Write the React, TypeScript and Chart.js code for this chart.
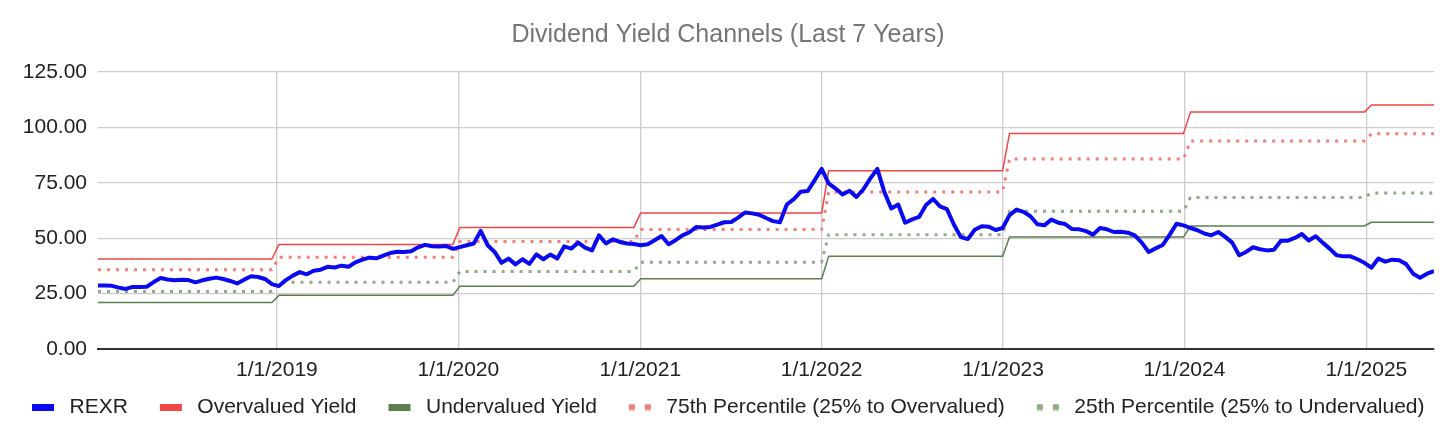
import { useEffect, useRef } from 'react';
import { Chart, registerables } from 'chart.js';

Chart.register(...registerables);
Chart.defaults.font.family = '"Liberation Sans", Arial, sans-serif';

// REXR is sampled every other Saturday, starting 1/6/2018
const DAY = 86400000;
const FIRST_DATE = Date.UTC(2018, 0, 6);
const STEP_DAYS = 14;

// one channel value per calendar year
const years = [2018, 2019, 2020, 2021, 2022, 2023, 2024, 2025];
const overvalued = [40.6, 47.2, 54.8, 61.4, 80.4, 97.3, 106.9, 110.1];
const pct75 = [35.8, 41.4, 48.5, 53.9, 70.9, 85.7, 93.9, 97.1];
const pct25 = [26.0, 30.1, 35.0, 39.2, 51.6, 62.2, 68.4, 70.4];
const undervalued = [21.0, 24.2, 28.3, 31.7, 41.8, 50.5, 55.5, 57.2];

const rexr = [
  // 2018
  28.6, 28.6, 28.5, 27.7, 27.1, 28.0, 28.0, 28.1, 30.2, 32.0, 31.4, 31.0, 31.3,
  31.1, 30.1, 31.0, 31.7, 32.2, 31.6, 30.7, 29.6, 31.3, 32.8, 32.5, 31.6, 29.3,
  // 2019
  28.4, 31.1, 33.1, 34.7, 33.7, 35.3, 35.8, 37.1, 36.8, 37.6, 37.1, 39.1, 40.3,
  41.2, 40.9, 42.1, 43.3, 43.9, 43.8, 44.1, 45.9, 47.0, 46.4, 46.2, 46.5, 45.2,
  // 2020
  46.0, 46.8, 47.6, 53.3, 46.8, 43.8, 38.9, 40.8, 38.2, 40.5, 38.4, 42.7, 40.5,
  42.6, 40.8, 46.3, 45.3, 48.0, 45.7, 44.5, 51.3, 47.6, 49.5, 48.3, 47.6, 47.4,
  // 2021
  46.8, 47.3, 49.1, 51.0, 47.3, 49.1, 51.3, 52.7, 55.1, 54.8, 55.1, 56.1, 57.2,
  57.3, 59.3, 61.6, 61.2, 60.6, 59.1, 57.7, 57.2, 65.2, 67.6, 71.0, 71.3, 76.2, 81.3,
  // 2022
  74.7, 72.4, 69.7, 71.4, 68.6, 72.1, 77.0, 81.3, 70.9, 63.4, 65.2, 57.0, 58.5,
  59.6, 65.0, 67.7, 64.4, 63.1, 56.2, 50.5, 49.6, 53.8, 55.4, 55.2, 53.7, 54.6,
  // 2023
  60.4, 62.9, 61.9, 59.9, 56.3, 55.8, 58.4, 57.0, 56.4, 54.1, 54.0, 53.2, 51.6,
  54.6, 54.0, 52.8, 52.9, 52.5, 51.3, 48.0, 43.8, 45.4, 46.9, 51.5, 56.5, 55.8,
  // 2024
  54.6, 53.6, 52.1, 51.3, 52.8, 50.6, 48.0, 42.3, 43.8, 45.9, 45.0, 44.5, 44.8,
  48.8, 48.9, 50.1, 51.9, 49.0, 50.9, 48.0, 45.3, 42.3, 41.8, 41.8, 40.5, 38.9,
  // 2025
  36.7, 40.8, 39.4, 40.3, 40.0, 38.3, 34.0, 32.2, 34.0, 35.2,
];

const tickYears = [2019, 2020, 2021, 2022, 2023, 2024, 2025];
const tickLabels = ['1/1/2019', '1/1/2020', '1/1/2021', '1/1/2022', '1/1/2023', '1/1/2024', '1/1/2025'];
const yTicks = [0, 25, 50, 75, 100, 125];

const dates = rexr.map((_, k) => FIRST_DATE + k * STEP_DAYS * DAY);

// a new year's value only applies to dates after Jan 1
function channel(values: number[]) {
  return dates.map((t) => ({
    x: t,
    y: values[years.indexOf(new Date(t - DAY).getUTCFullYear())],
  }));
}

function makeIcon(color: string, dotted: boolean) {
  const c = document.createElement('canvas');
  c.width = 46;
  c.height = 7;
  const g = c.getContext('2d')!;
  g.fillStyle = color;
  if (dotted) {
    g.fillRect(19, 0.5, 6, 6);
    g.fillRect(35, 0.5, 6, 6);
  } else {
    g.fillRect(19, 0, 22, 7);
  }
  return c;
}

export default function App() {
  const chartRef = useRef<HTMLCanvasElement>(null);
  const chartInstance = useRef<Chart | null>(null);

  useEffect(() => {
    document.body.style.margin = '0';
    if (!chartRef.current) return;
    if (chartInstance.current) chartInstance.current.destroy();

    const ctx = chartRef.current.getContext('2d');
    if (!ctx) return;

    const series = [
      { label: 'REXR', color: '#0a0af0', width: 4, dotted: false, data: dates.map((t, k) => ({ x: t, y: rexr[k] })) },
      { label: 'Overvalued Yield', color: '#f04646', width: 1.5, dotted: false, data: channel(overvalued) },
      { label: 'Undervalued Yield', color: '#5c7f4f', width: 1.5, dotted: false, data: channel(undervalued) },
      { label: '75th Percentile (25% to Overvalued)', color: '#f47e7e', width: 3, dotted: true, data: channel(pct75) },
      { label: '25th Percentile (25% to Undervalued)', color: '#8fa98a', width: 3, dotted: true, data: channel(pct25) },
    ];
    const icons = series.map((s) => makeIcon(s.color, s.dotted));

    chartInstance.current = new Chart(ctx, {
      type: 'line',
      data: {
        datasets: series.map((s) => ({
          label: s.label,
          data: s.data,
          borderColor: s.color,
          backgroundColor: s.color,
          borderWidth: s.width,
          borderDash: s.dotted ? [3, 6] : [],
          borderJoinStyle: 'round',
          pointRadius: 0,
          tension: 0,
        })),
      },
      options: {
        responsive: true,
        maintainAspectRatio: false,
        animation: false,
        layout: { padding: { left: 0, right: 0, top: 0, bottom: 12.5 } },
        scales: {
          x: {
            type: 'linear',
            min: dates[0],
            max: dates[dates.length - 1],
            afterBuildTicks: (scale: any) => {
              scale.ticks = tickYears.map((y) => ({ value: Date.UTC(y, 0, 1) }));
            },
            afterFit: (scale: any) => {
              scale.height = 34.5;
            },
            ticks: {
              callback: (_v: any, i: number) => tickLabels[i],
              color: '#222',
              font: { size: 21 },
              padding: 8.4,
              maxRotation: 0,
              autoSkip: false,
            },
            grid: { color: '#cccccc', lineWidth: 1.3, drawTicks: false },
            border: { color: '#333333', width: 2 },
          },
          y: {
            min: 0,
            max: 125,
            afterBuildTicks: (scale: any) => {
              scale.ticks = yTicks.map((v) => ({ value: v }));
            },
            afterFit: (scale: any) => {
              scale.width = 98;
            },
            ticks: {
              callback: (v: any) => Number(v).toFixed(2),
              color: '#222',
              font: { size: 21 },
              padding: 11,
            },
            grid: { color: '#cccccc', lineWidth: 1.3, drawTicks: false },
            border: { display: false },
          },
          // empty strip that keeps the plot off the right edge
          pad: {
            type: 'linear',
            position: 'right',
            ticks: { display: false },
            grid: { display: false },
            border: { display: false },
            afterFit: (scale: any) => {
              scale.width = 22;
            },
          },
        },
        plugins: {
          title: {
            display: true,
            text: 'Dividend Yield Channels (Last 7 Years)',
            color: '#757575',
            font: { size: 25, weight: 'normal' },
            padding: { top: 20.5, bottom: 21.5 },
          },
          legend: {
            position: 'bottom',
            align: 'start',
            labels: {
              usePointStyle: true,
              pointStyleWidth: 46,
              boxHeight: 7,
              padding: 13,
              color: '#222',
              font: { size: 21 },
              generateLabels: (chart: Chart) =>
                chart.data.datasets.map((ds: any, i: number) => ({
                  text: ds.label,
                  pointStyle: icons[i],
                  fillStyle: ds.borderColor,
                  strokeStyle: ds.borderColor,
                  lineWidth: 0,
                  hidden: false,
                  datasetIndex: i,
                  fontColor: '#222',
                })),
            },
          },
          tooltip: { enabled: false },
        },
      },
    } as any);

    return () => {
      if (chartInstance.current) {
        chartInstance.current.destroy();
        chartInstance.current = null;
      }
    };
  }, []);

  return (
    <div style={{ position: 'relative', width: 1456, height: 440 }}>
      <canvas ref={chartRef} />
    </div>
  );
}
